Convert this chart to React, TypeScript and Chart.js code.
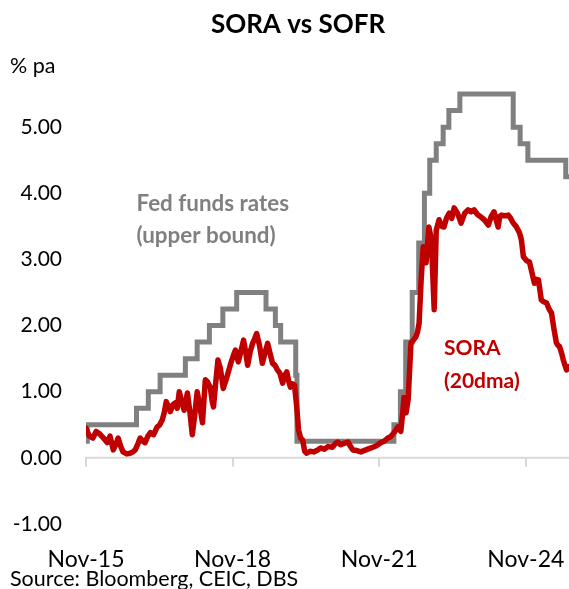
import React, { useEffect, useRef } from 'react';
import { Chart, registerables } from 'chart.js';

Chart.register(...registerables);

// Month index: 0 = Nov-15
const xTickMonths = [0, 36, 72, 108];
const xTickLabels = ['Nov-15', 'Nov-18', 'Nov-21', 'Nov-24'];

// Fed funds target rate (upper bound), change points
const fedMonths = [0, 0.3, 12.4, 15.3, 18.2, 24.4, 27.3, 30.3, 33.6, 37.0, 44.2, 46.5, 47.8, 51.5, 51.8, 75.6, 77.2, 78.5, 80.1, 81.7, 83.1, 84.4, 86.0, 87.7, 89.1, 91.8, 104.9, 106.6, 108.5, 117.8, 118.6];
const fedRates = [0.25, 0.5, 0.75, 1.0, 1.25, 1.5, 1.75, 2.0, 2.25, 2.5, 2.25, 2.0, 1.75, 1.25, 0.25, 0.5, 1.0, 1.75, 2.5, 3.25, 4.0, 4.5, 4.75, 5.0, 5.25, 5.5, 5.0, 4.75, 4.5, 4.25, 4.25];

// SORA, 20-day moving average
const soraMonths = [
  0.0, 0.8, 1.7, 2.5, 3.4, 4.3, 5.2, 5.9, 6.7, 7.3, 7.9, 8.5, 9.1, 10.0, 10.8, 11.5, 12.1, 12.8, 13.3, 14.0,
  14.5, 15.2, 15.8, 16.6, 17.5, 18.1, 18.7, 19.2, 19.7, 20.2, 20.7, 21.3, 21.9, 22.4, 22.9, 23.5, 24.1, 24.5, 24.9, 25.5,
  26.1, 26.7, 27.3, 27.9, 28.6, 29.3, 29.8, 30.5, 31.0, 31.3, 31.8, 32.4, 33.0, 33.7, 34.5, 35.5, 36.2, 36.7, 37.4, 38.0,
  38.7, 39.2, 39.7, 40.3, 40.9, 41.4, 41.9, 42.6, 43.3, 44.0, 44.6, 45.2, 45.8, 46.4, 47.0, 47.6, 48.3, 48.8, 49.3, 49.8,
  50.2, 50.7, 51.2, 51.7, 52.2, 52.7, 53.2, 53.7, 54.2, 55.0, 55.9, 56.9, 57.6, 58.5, 59.4, 60.5, 61.3, 61.8, 62.5, 63.4,
  64.3, 64.9, 65.5, 66.5, 67.5, 68.7, 70.0, 71.2, 72.4, 73.2, 74.1, 74.8, 75.6, 76.1, 76.6, 77.3, 77.8, 78.1, 78.6, 79.1,
  79.8, 80.4, 81.0, 81.4, 81.8, 82.3, 82.8, 83.5, 84.2, 84.8, 85.5, 86.0, 86.7, 87.3, 87.9, 88.5, 89.2, 89.8, 90.4, 91.2,
  92.1, 93.0, 93.8, 94.5, 95.3, 96.1, 97.0, 97.8, 98.8, 99.5, 100.2, 100.7, 101.2, 101.6, 102.0, 102.9, 103.7, 104.3, 104.9, 105.6,
  106.4, 106.9, 107.4, 108.2, 108.9, 109.5, 110.1, 110.6, 111.1, 111.8, 112.4, 113.1, 113.7, 114.3, 114.9, 115.5, 115.9, 116.3, 116.8, 117.2,
  117.6, 118.0, 118.4
];
const soraValues = [
  0.45, 0.33, 0.30, 0.40, 0.36, 0.30, 0.23, 0.33, 0.12, 0.20, 0.30, 0.18, 0.09, 0.06, 0.07, 0.09, 0.12, 0.22, 0.30, 0.25,
  0.23, 0.33, 0.38, 0.35, 0.47, 0.50, 0.57, 0.68, 0.85, 0.78, 0.70, 0.80, 0.83, 0.75, 1.00, 0.85, 0.72, 0.85, 0.98, 0.70,
  0.35, 0.65, 1.00, 0.80, 0.53, 1.18, 1.15, 1.07, 0.85, 0.77, 1.10, 1.48, 1.35, 1.05, 1.20, 1.42, 1.55, 1.63, 1.45, 1.60,
  1.78, 1.60, 1.40, 1.60, 1.73, 1.80, 1.88, 1.70, 1.43, 1.60, 1.73, 1.58, 1.43, 1.40, 1.33, 1.28, 1.13, 1.25, 1.30, 1.15,
  1.07, 1.12, 1.10, 0.80, 0.42, 0.30, 0.27, 0.10, 0.07, 0.10, 0.09, 0.12, 0.15, 0.13, 0.17, 0.16, 0.22, 0.24, 0.20, 0.22,
  0.24, 0.18, 0.12, 0.11, 0.09, 0.12, 0.15, 0.18, 0.23, 0.25, 0.30, 0.32, 0.38, 0.42, 0.47, 0.40, 0.70, 0.92, 0.68, 0.88,
  1.74, 1.78, 1.83, 1.90, 2.04, 2.70, 3.19, 2.95, 3.49, 3.30, 2.24, 3.44, 3.60, 3.50, 3.49, 3.62, 3.70, 3.62, 3.78, 3.70,
  3.55, 3.70, 3.75, 3.72, 3.75, 3.68, 3.64, 3.60, 3.52, 3.65, 3.72, 3.60, 3.49, 3.65, 3.67, 3.66, 3.67, 3.62, 3.55, 3.50,
  3.41, 3.30, 3.04, 2.98, 2.96, 2.80, 2.64, 2.70, 2.69, 2.39, 2.36, 2.34, 2.25, 2.19, 1.95, 1.74, 1.70, 1.68, 1.58, 1.48,
  1.40, 1.33, 1.38
];

const FONT = 'Lato, "Open Sans", sans-serif';

export default function App() {
  const ref = useRef<HTMLCanvasElement>(null);

  useEffect(() => {
    const canvas = ref.current;
    if (!canvas) return;

    const decor = {
      id: 'decor',
      beforeDatasetsDraw(chart: any) {
        const { ctx, chartArea, scales } = chart;
        const x = scales.x;
        const y = scales.y;
        const y0 = y.getPixelForValue(0);
        ctx.save();
        ctx.strokeStyle = '#D9D9D9';
        ctx.lineWidth = 2;
        ctx.beginPath();
        ctx.moveTo(chartArea.left - 1, y0);
        ctx.lineTo(chartArea.right, y0);
        for (const m of xTickMonths) {
          const px = Math.round(x.getPixelForValue(m));
          ctx.moveTo(px, y0);
          ctx.lineTo(px, y0 + 9);
        }
        ctx.stroke();
        ctx.restore();
      },
      afterDraw(chart: any) {
        const { ctx, scales } = chart;
        const x = scales.x;
        const y = scales.y;
        ctx.save();
        ctx.textBaseline = 'middle';
        // title
        ctx.fillStyle = '#000';
        ctx.textAlign = 'center';
        ctx.font = `bold 26px ${FONT}`;
        ctx.fillText('SORA vs SOFR', 298, 25);
        // unit
        ctx.textAlign = 'left';
        ctx.font = `21.5px ${FONT}`;
        ctx.fillText('% pa', 10, 66);
        // source
        ctx.fillText('Source: Bloomberg, CEIC, DBS', 10, 579);
        // series labels
        ctx.font = `bold 22.4px ${FONT}`;
        ctx.fillStyle = '#808080';
        const fx = x.getPixelForValue(12.4);
        ctx.fillText('Fed funds rates', fx, y.getPixelForValue(3.84));
        ctx.fillText('(upper bound)', fx, y.getPixelForValue(3.35));
        ctx.font = `bold 21px ${FONT}`;
        ctx.fillStyle = '#C00000';
        const sx = x.getPixelForValue(87.9);
        ctx.fillText('SORA', sx, y.getPixelForValue(1.66));
        ctx.fillText('(20dma)', sx, y.getPixelForValue(1.16));
        ctx.restore();
      },
    };

    const chart = new Chart(canvas, {
      type: 'line',
      data: {
        datasets: [
          {
            label: 'SORA (20dma)',
            data: soraMonths.map((m, i) => ({ x: m, y: soraValues[i] })),
            borderColor: '#C00000',
            backgroundColor: '#C00000',
            borderWidth: 5.5,
            pointRadius: 0,
            tension: 0,
            borderJoinStyle: 'round',
            borderCapStyle: 'round',
          },
          {
            label: 'Fed funds rates (upper bound)',
            data: fedMonths.map((m, i) => ({ x: m, y: fedRates[i] })),
            borderColor: '#808080',
            backgroundColor: '#808080',
            borderWidth: 5,
            pointRadius: 0,
            stepped: true,
            borderJoinStyle: 'miter',
          },
        ],
      } as any,
      options: {
        responsive: false,
        animation: false,
        events: [],
        layout: { padding: { top: 61, left: 0, right: 0, bottom: 0 } },
        plugins: {
          legend: { display: false },
          tooltip: { enabled: false },
          title: { display: false },
        },
        scales: {
          x: {
            type: 'linear',
            min: 0,
            max: 118.6,
            grid: { display: false, drawTicks: false },
            border: { display: false },
            afterBuildTicks: (s: any) => {
              s.ticks = xTickMonths.map((v) => ({ value: v }));
            },
            afterFit: (s: any) => {
              s.height = 65;
              s.paddingLeft = 0;
              s.paddingRight = 0;
            },
            ticks: {
              autoSkip: false,
              maxRotation: 0,
              padding: 22,
              color: '#000',
              font: { family: FONT, size: 23 },
              callback: (v: any) => {
                const i = xTickMonths.indexOf(Number(v));
                return i >= 0 ? xTickLabels[i] : '';
              },
            },
          },
          y: {
            min: -1,
            max: 6,
            grid: { display: false, drawTicks: false },
            border: { display: false },
            afterFit: (s: any) => {
              s.width = 86;
              s.paddingTop = 0;
              s.paddingBottom = 0;
            },
            ticks: {
              stepSize: 1,
              padding: 24,
              color: '#000',
              font: { family: FONT, size: 21 },
              callback: (v: any) => (Number(v) === 6 ? '' : Number(v).toFixed(2)),
            },
          },
        },
      } as any,
      plugins: [decor],
    });

    return () => {
      chart.destroy();
    };
  }, []);

  return (
    <div style={{ position: 'fixed', left: 0, top: 0, width: 569, height: 589, background: '#fff' }}>
      <canvas ref={ref} width={569} height={589} style={{ display: 'block', width: 569, height: 589 }} />
    </div>
  );
}
